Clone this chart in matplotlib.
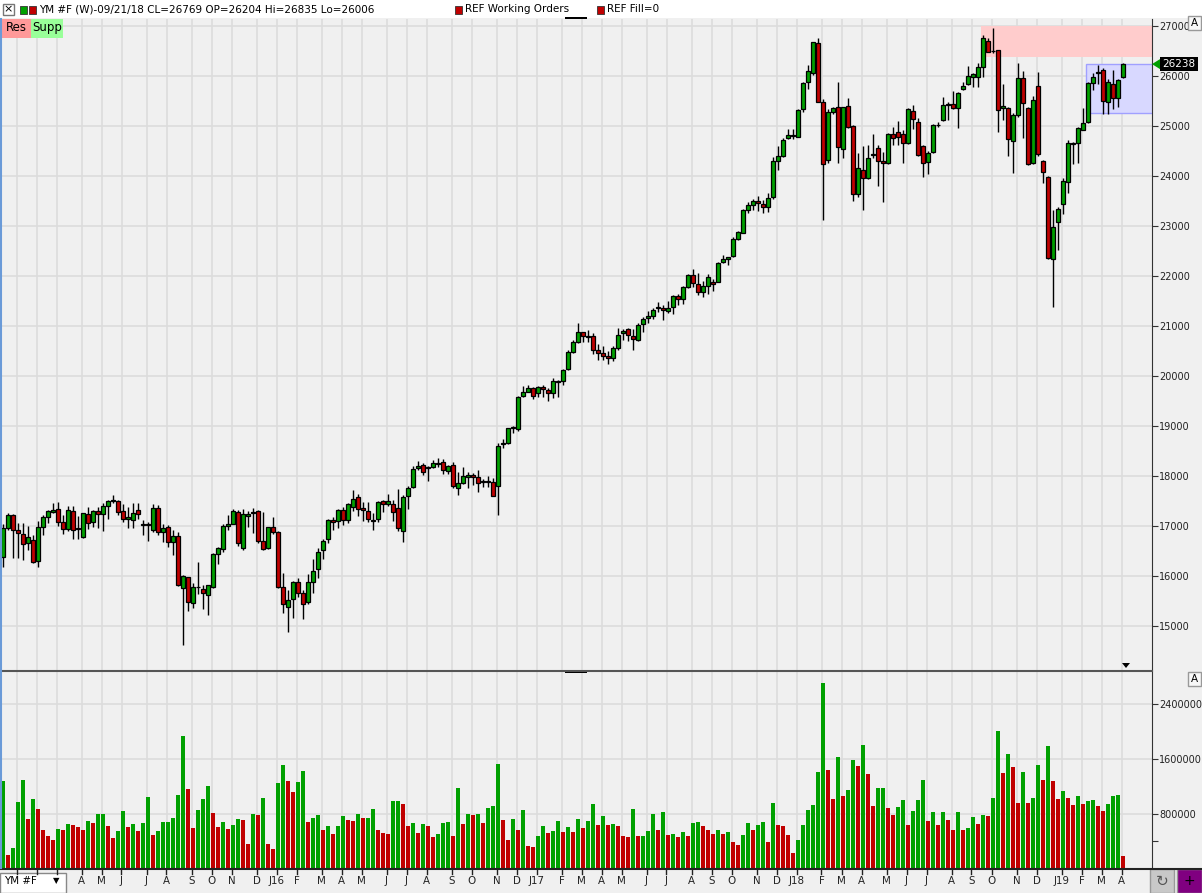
import matplotlib
matplotlib.use("Agg")
import matplotlib.pyplot as plt
from matplotlib.patches import Rectangle, Polygon
import numpy as np
import pandas as pd

start_week = "2014-12-15"
opens = [16387,16953,17220,16920,16833,16653,16720,16307,16973,17187,17280,17333,17073,16933,17293,16933,16787,17233,17087,17300,
 17233,17407,17500,17500,17300,17133,17113,17313,17020,17027,16920,17353,16887,16973,16673,16800,15753,15973,15453,15773,
 15733,15613,15787,16433,16547,17000,17040,17273,16553,17207,17260,17300,16707,16567,16980,16880,15773,15387,15533,15880,
 15653,15473,15873,16133,16520,16733,17120,17100,17313,17113,17373,17573,17353,17300,17110,17133,17500,17447,17433,17353,
 16907,17607,17773,18167,18220,18160,18187,18240,18273,18107,18220,17767,17867,17987,18020,17973,17880,17887,17873,17807,
 18640,18667,18953,18933,19607,19687,19753,19653,19773,19720,19653,19880,19900,20133,20487,20687,20873,20800,20800,20520,
 20450,20400,20350,20553,20853,20933,20800,20720,21033,21153,21207,21360,21367,21300,21373,21600,21533,21787,22020,21833,
 21687,21807,21873,21887,22273,22340,22407,22733,22867,23320,23427,23493,23440,23373,23573,24300,24407,24767,24813,24787,
 25333,25887,26053,26653,25473,24320,25287,25373,24533,25393,24993,23633,24120,23967,24420,24553,24300,24253,24833,24873,
 24840,24653,25300,25073,24600,24287,24473,25013,25120,25420,25433,25353,25733,25833,25987,25973,26187,26700,26490,26520,
 25353,25353,24707,25213,25953,25367,24253,25800,24300,23980,22333,23087,23433,23887,24640,24653,24920,25073,25867,26060,
 26120,25480,25833,25553,25973]
highs = [17040,17267,17240,17053,17067,17000,16820,17100,17220,17320,17453,17487,17220,17400,17400,17200,17270,17387,17320,17387,
 17453,17520,17620,17520,17440,17387,17453,17467,17120,17087,17440,17420,17040,17020,16920,16887,16020,15987,15853,16273,
 15820,15820,16467,16587,17040,17220,17333,17320,17333,17300,17353,17320,17273,16987,17187,16907,16053,15720,15907,15953,
 15720,16040,16333,16553,16740,17140,17173,17340,17380,17467,17720,17633,17487,17480,17253,17507,17520,17640,17520,17740,
 17620,17800,18207,18300,18253,18200,18320,18360,18340,18220,18273,18073,18187,18073,18053,18120,17940,18000,17953,18653,
 18733,18967,19000,19600,19800,19820,19787,19800,19820,19753,19960,19920,20133,20520,20720,21067,20887,20920,20853,20650,
 20600,20500,20600,20953,20933,20953,20933,21053,21187,21300,21360,21487,21420,21507,21620,21633,21800,22040,22140,22053,
 21907,22040,21940,22287,22420,22387,22787,22907,23340,23473,23540,23607,23520,23653,24387,24607,24753,24940,24940,25340,
 25887,26220,26687,26753,25533,25333,25373,25873,25387,25553,25013,24453,24607,24620,24840,24620,24487,24867,24987,25107,
 24920,25367,25420,25153,24620,24500,25033,25087,25587,25487,25707,25687,25887,26200,26053,26253,26820,26753,26953,26520,
 25840,25387,25253,26267,26107,25387,25600,26087,24313,24000,23320,23387,23953,24720,24687,24973,25353,25887,26067,26220,
 26167,25933,26120,25933,26253]
lows = [16173,16920,16367,16367,16320,16520,16267,16173,16820,17067,17253,17000,16833,16907,16747,16747,16770,16940,16973,16967,
 16907,17140,17467,17220,17087,16953,16967,17133,16820,16707,16887,16820,16687,16587,16420,15800,14620,15307,15367,15640,
 15347,15227,15767,16247,16487,16920,17040,16607,16520,16973,16867,16667,16530,16547,16840,15753,15267,14887,15153,15587,
 15133,15440,15653,15953,16347,16653,16920,16967,17020,17053,17307,17207,17107,17087,16920,17073,17287,17407,17100,16907,
 16687,17340,17767,18120,18027,17907,18153,18187,18047,18033,17753,17627,17833,17767,17820,17687,17787,17787,17600,17220,
 18567,18640,18867,18907,19587,19673,19540,19587,19587,19507,19567,19587,19820,20120,20467,20653,20687,20687,20450,20320,
 20330,20250,20300,20520,20720,20707,20520,20700,20887,21053,21140,21287,21120,21253,21233,21420,21440,21753,21787,21620,
 21587,21640,21707,21873,22267,22220,22387,22720,22853,23267,23320,23307,23267,23287,23533,24120,24387,24740,24740,24773,
 25287,25740,26020,25473,23120,24267,25240,24253,24367,24953,23507,23573,23320,23933,24353,23807,23487,24240,24620,24620,
 24253,24640,24933,24400,23987,24033,24467,24987,25107,25120,25333,24967,25720,25820,25787,25787,25987,26473,26467,24887,
 25120,24407,24067,25187,24767,24220,24240,24400,23867,22333,21387,22520,23240,23667,24240,24253,24920,25053,25720,25840,
 25233,25233,25333,25373,25953]
closes = [16953,17220,16920,16853,16633,16773,16287,16973,17173,17300,17313,17073,16933,17313,16913,16953,17253,17053,17300,17233,
 17400,17500,17520,17287,17133,17173,17253,17233,17027,17020,17353,16887,16953,16687,16800,15820,16000,15473,15773,15780,
 15653,15813,16433,16553,17000,17040,17300,16653,17233,17233,17267,16707,16547,16980,16880,15773,15433,15520,15887,15653,
 15440,15873,16107,16473,16700,17120,17073,17313,17120,17433,17540,17333,17313,17133,17100,17480,17433,17500,17287,16967,
 17573,17753,18133,18207,18087,18167,18253,18247,18113,18200,17800,17853,18000,18020,17973,17867,17887,17880,17607,18600,
 18653,18953,18987,19587,19673,19753,19607,19773,19733,19653,19900,19887,20120,20473,20673,20873,20807,20787,20520,20450,
 20400,20350,20550,20820,20893,20820,20733,21020,21140,21200,21320,21367,21320,21353,21600,21533,21773,22020,21853,21687,
 21800,21973,21833,22253,22333,22373,22733,22880,23313,23413,23493,23453,23373,23553,24300,24400,24720,24813,24807,25320,
 25867,26093,26673,25487,24233,25273,25353,24587,25373,24987,23633,24153,23953,24353,24440,24307,24253,24840,24753,24773,
 24653,25340,25140,24420,24267,24467,25013,25020,25413,25433,25353,25667,25800,26000,26040,26173,26753,26487,26507,25320,
 25407,24733,25213,25953,25453,24240,25520,24433,24087,22353,22973,23333,23900,24653,24660,24953,25053,25867,25973,26067,
 25507,25880,25553,25920,26240]
volumes = [1280,204,305,975,1295,727,1018,873,567,480,422,582,567,655,640,611,567,698,669,800,
 800,625,451,553,844,611,655,553,669,1047,495,553,684,684,742,1076,1935,1164,596,858,
 1018,1207,815,611,684,582,640,727,713,364,800,785,1033,364,291,1251,1513,1280,1120,1265,
 1425,684,742,785,567,625,509,625,771,713,698,800,742,742,873,567,524,509,989,989,
 945,625,669,524,655,625,465,509,669,684,480,1178,655,800,785,800,669,887,916,1527,
 713,422,727,567,858,335,320,480,625,524,553,698,538,611,538,727,596,698,945,640,
 771,640,655,625,480,465,873,480,480,553,800,567,829,495,509,465,538,480,669,684,
 625,567,509,567,509,538,393,349,495,669,567,640,684,393,960,640,625,495,233,422,
 640,858,931,1411,2705,1440,1018,1629,1062,1149,1585,1498,1804,1382,916,1178,1178,887,785,902,
 1004,640,844,1004,1295,698,829,640,829,713,567,829,567,596,756,655,785,771,1033,2007,
 1396,1673,1484,960,1411,960,1033,1513,1295,1789,1280,1018,1135,1033,931,1062,945,989,1004,916,
 844,945,1062,1076,189]
last_price = 26238
res_zone = (26387, 27000)
supp_zone = (25260, 26240)

W, H = 1202, 893
BG = "#f0f0f0"; GRID = "#dcdcdc"; GREEN = "#00a000"; RED = "#c00000"
fig = plt.figure(figsize=(W/100, H/100), dpi=100, facecolor=BG)
plt.rcParams['font.family'] = ['DejaVu Sans']
FS = 7.0

def px(l, t, r, b):
    return [l/W, 1-b/H, (r-l)/W, (b-t)/H]

axp = fig.add_axes(px(0, 19, 1152, 670), facecolor=BG)
axv = fig.add_axes(px(0, 671, 1152, 868), facecolor=BG)

n = len(closes)
x = np.arange(n)
o = np.array(opens); c = np.array(closes); h = np.array(highs); l = np.array(lows)
up = c >= o
dates = pd.date_range(start_week, periods=n, freq="W-MON")
mstarts = [i for i in range(1, n) if dates[i].month != dates[i-1].month]

for ax in (axp, axv):
    ax.set_xlim(-0.6, 229.8)
    for i in mstarts:
        ax.axvline(i-0.3, color=GRID, lw=1.2, zorder=0)
    for s in ax.spines.values():
        s.set_visible(False)
    ax.set_xticks([])
    ax.yaxis.tick_right()
    ax.tick_params(axis='y', labelsize=FS, length=4, pad=1, color='#333333', labelcolor='#222222')

axp.set_ylim(14120, 27140)
for p in range(15000, 27001, 1000):
    axp.axhline(p, color=GRID, lw=1.2, zorder=0)
axp.set_yticks(range(15000, 27001, 1000))
axp.vlines(x, l, h, color='black', lw=1, zorder=2)
body_h = np.maximum(np.abs(c-o), 12)
axp.bar(x, body_h, bottom=np.minimum(o, c), width=0.75,
        color=np.where(up, GREEN, RED), edgecolor='black', lw=0.9, zorder=3)
axp.add_patch(Rectangle((195.6, res_zone[0]), 40, res_zone[1]-res_zone[0], facecolor='#ffcccc', edgecolor='none', zorder=1))
axp.add_patch(Rectangle((216.6, supp_zone[0]), 40, supp_zone[1]-supp_zone[0], facecolor='#d8d8ff', edgecolor='#a0a0ff', lw=1, zorder=1))
axp.spines['right'].set_visible(True); axp.spines['right'].set_color('#333333')

axv.set_ylim(14545, 2880000)
for v in (800000, 1600000, 2400000):
    axv.axhline(v, color=GRID, lw=1.2, zorder=0)
axv.set_yticks([400000, 800000, 1600000, 2400000])
axv.set_yticklabels(['', '800000', '1600000', '2400000'])
vol = np.array(volumes) * 1000
vcol = [GREEN] + [GREEN if vol[i] >= vol[i-1] else RED for i in range(1, n)]
axv.bar(x, vol, width=0.8, color=vcol, zorder=2)
axv.spines['right'].set_visible(True); axv.spines['right'].set_color('#333333')

# panel separators
fig.add_artist(plt.Line2D([0, 1152/W], [1-670.5/H]*2, color='#555555', lw=1.5))
fig.add_artist(plt.Line2D([0, 1], [1-868.5/H]*2, color='#222222', lw=1.5))
fig.add_artist(plt.Line2D([0.5/W]*2, [1-19/H, 1-868/H], color='#6a9ad8', lw=1.5))

# month labels
for i in mstarts:
    d = dates[i]
    lab = f"J{d.year % 100}" if d.month == 1 else "JFMAMJJASOND"[d.month-1]
    xp_px = 3 + 5*(i-0.3)
    xp = xp_px / W
    fig.add_artist(plt.Line2D([xp, xp], [1-869/H, 1-874/H], color='#222222', lw=1))
    if xp_px > 72:
        fig.text(xp, 1-881/H, lab, ha='center', va='center', fontsize=FS+0.4, color='#222222')

# bottom-left symbol box
fig.patches.append(Rectangle((0, 0), 66/W, 20/H, transform=fig.transFigure, facecolor='white', edgecolor='#888888', lw=1))
fig.text(4/W, 1-881/H, "YM #F", fontsize=FS+0.4, va='center')
fig.text(53/W, 1-881/H, "▼", fontsize=6, va='center')
fig.patches.append(Rectangle((1150/W, 0), 24/W, 24/H, transform=fig.transFigure, facecolor='#c8c8c8', edgecolor='#999999'))
fig.text(1162/W, 1-881/H, "↻", fontsize=11, ha='center', va='center', color='#555555')
fig.patches.append(Rectangle((1177/W, 0), 25/W, 24/H, transform=fig.transFigure, facecolor='#800080', edgecolor='#999999'))
fig.text(1189/W, 1-881/H, "+", fontsize=10, ha='center', va='center', color='black')

# title bar
fig.patches.append(Rectangle((0, 1-18/H), 1, 18/H, transform=fig.transFigure, facecolor='white', edgecolor='none'))
fig.patches.append(Rectangle((3/W, 1-15/H), 11/W, 11/H, transform=fig.transFigure, facecolor='white', edgecolor='#777777'))
fig.text(8.5/W, 1-9.5/H, "×", fontsize=8, ha='center', va='center')
for xx, col in ((20, GREEN), (29, RED)):
    fig.patches.append(Rectangle((xx/W, 1-14/H), 7/W, 8/H, transform=fig.transFigure, facecolor=col, edgecolor='#333333', lw=0.6))
fig.text(39/W, 1-9.5/H, "YM #F (W)-09/21/18 CL=26769 OP=26204 Hi=26835 Lo=26006", fontsize=FS+0.5, va='center')
for xx, t in ((455, "REF Working Orders"), (597, "REF Fill=0")):
    fig.patches.append(Rectangle((xx/W, 1-14/H), 7/W, 8/H, transform=fig.transFigure, facecolor=RED, edgecolor='#333333', lw=0.6))
    fig.text((xx+10)/W, 1-9.5/H, t, fontsize=FS+0.5, va='center')
fig.patches.append(Rectangle((565/W, 1-19/H), 22/W, 2/H, transform=fig.transFigure, facecolor='black'))
fig.patches.append(Rectangle((565/W, 1-673/H), 22/W, 2/H, transform=fig.transFigure, facecolor='black'))

# Res / Supp buttons
fig.patches.append(Rectangle((2/W, 1-38/H), 29/W, 19/H, transform=fig.transFigure, facecolor='#ff9999', edgecolor='none'))
fig.text(16/W, 1-27.5/H, "Res", fontsize=8.5, ha='center', va='center')
fig.patches.append(Rectangle((31/W, 1-38/H), 32/W, 19/H, transform=fig.transFigure, facecolor='#99ff99', edgecolor='none'))
fig.text(47/W, 1-27.5/H, "Supp", fontsize=8.5, ha='center', va='center')

# A buttons
for yy in (23, 679):
    fig.patches.append(Rectangle((1188/W, 1-(yy+7)/H), 13/W, 14/H, transform=fig.transFigure, facecolor='#f8f8f8', edgecolor='#999999'))
    fig.text(1194.5/W, 1-yy/H, "A", fontsize=7.5, ha='center', va='center')

# last price tag
yl = 26 + (27000 - last_price) * 0.05
fig.patches.append(Rectangle((1160/W, 1-(yl+7)/H), 38/W, 14/H, transform=fig.transFigure, facecolor='black'))
fig.text(1179/W, 1-yl/H, f"{last_price}", fontsize=7.5, color='white', ha='center', va='center')
fig.patches.append(Polygon([[1152/W, 1-yl/H], [1160/W, 1-(yl-5)/H], [1160/W, 1-(yl+5)/H]], closed=True, transform=fig.transFigure, facecolor=GREEN))
fig.patches.append(Polygon([[1122/W, 1-663/H], [1126/W, 1-668/H], [1130/W, 1-663/H]], closed=True, transform=fig.transFigure, facecolor='black'))

fig.savefig("out.png", dpi=100, facecolor=BG)
